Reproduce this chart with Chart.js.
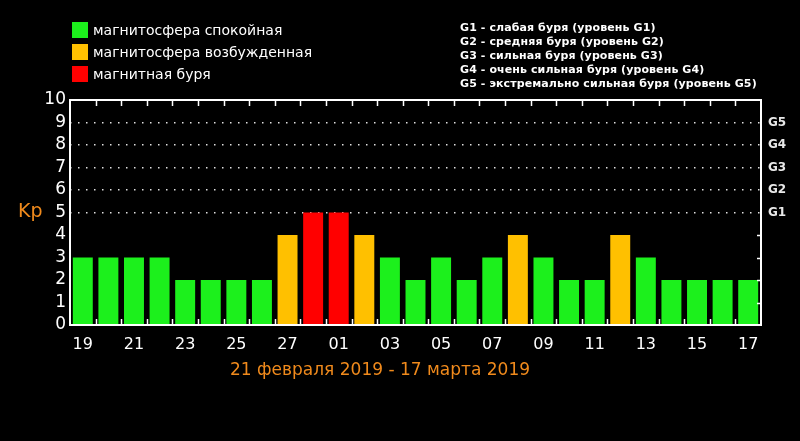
<!DOCTYPE html>
<html>
<head>
<meta charset="utf-8">
<script src="https://cdn.jsdelivr.net/npm/chart.js@4/dist/chart.umd.min.js"></script>
<style>
    body { margin: 0; background: #000; }
    #wrap { position: relative; width: 800px; height: 441px; background: #000; overflow: hidden; font-family: "DejaVu Sans", sans-serif; }
    #kp-chart { position: absolute; left: 0; top: 0; }
    .legend { position: absolute; left: 72px; color: #fff; font-size: 14px; display: flex; align-items: center; height: 16px; }
    .legend span.box { width: 16px; height: 16px; margin-right: 5px; display: inline-block; }
    #g-legend { position: absolute; left: 460px; top: 21px; color: #fff; font-size: 11px; font-weight: bold; line-height: 14px; white-space: nowrap; letter-spacing: 0.1px; }
    #kp-label { position: absolute; left: 18px; top: 199px; color: #f08a1c; font-size: 19px; }
    #range { position: absolute; left: 230px; top: 359px; color: #f08a1c; font-size: 17px; white-space: nowrap; }
</style>
</head>
<body>
<div id="wrap">
    <canvas id="kp-chart" width="800" height="441"></canvas>
    <div class="legend" style="top:22px"><span class="box" style="background:#1cf01c"></span>магнитосфера спокойная</div>
    <div class="legend" style="top:44px"><span class="box" style="background:#ffc000"></span>магнитосфера возбужденная</div>
    <div class="legend" style="top:66px"><span class="box" style="background:#ff0000"></span>магнитная буря</div>
    <div id="g-legend">
        G1 - слабая буря (уровень G1)<br>
        G2 - средняя буря (уровень G2)<br>
        G3 - сильная буря (уровень G3)<br>
        G4 - очень сильная буря (уровень G4)<br>
        G5 - экстремально сильная буря (уровень G5)
    </div>
    <div id="kp-label">Kp</div>
    <div id="range">21 февраля 2019 - 17 марта 2019</div>
</div>
<script>
// days 19 Feb .. 17 Mar 2019
const days = ['19', '20', '21', '22', '23', '24', '25', '26', '27', '28',
    '01', '02', '03', '04', '05', '06', '07', '08', '09', '10',
    '11', '12', '13', '14', '15', '16', '17'];
const kpValues = [3, 3, 3, 3, 2, 2, 2, 2, 4, 5, 5, 4, 3, 2, 3, 2, 3, 4, 3, 2, 2, 4, 3, 2, 2, 2, 2];
const gLabels = ['G1', 'G2', 'G3', 'G4', 'G5'];   // at Kp 5..9

const GREEN = '#1cf01c';
const ORANGE = '#ffc000';
const RED = '#ff0000';

function barColor(v) {
    if (v >= 5) return RED;
    if (v >= 4) return ORANGE;
    return GREEN;
}

// frame with small inward ticks, like the original plot
const framePlugin = {
    id: 'frame',
    afterDatasetsDraw(chart) {
        const { ctx, chartArea: a, scales } = chart;
        const x = scales.x;
        const y = scales.y;
        ctx.save();
        ctx.strokeStyle = '#fff';
        ctx.lineWidth = 2;
        ctx.strokeRect(a.left, a.top, a.right - a.left, a.bottom - a.top);

        ctx.lineWidth = 1.5;
        ctx.beginPath();
        for (let i = 1; i < days.length; i++) {
            const xb = Math.round((x.getPixelForValue(i - 1) + x.getPixelForValue(i)) / 2) + 0.5;
            ctx.moveTo(xb, a.top);
            ctx.lineTo(xb, a.top + 6);
            ctx.moveTo(xb, a.bottom);
            ctx.lineTo(xb, a.bottom - 6);
        }
        for (let v = 1; v <= 4; v++) {
            const yy = Math.round(y.getPixelForValue(v)) + 0.5;
            ctx.moveTo(a.right, yy);
            ctx.lineTo(a.right - 4, yy);
        }
        ctx.stroke();
        ctx.restore();
    }
};

new Chart(document.getElementById('kp-chart'), {
    type: 'bar',
    data: {
        labels: days,
        datasets: [{
            data: kpValues,
            backgroundColor: kpValues.map(barColor),
            borderWidth: 0,
            barPercentage: 0.78,
            categoryPercentage: 1
        }]
    },
    options: {
        responsive: false,
        animation: false,
        layout: {
            padding: { top: 100, left: 0, right: 0, bottom: 0 }
        },
        plugins: {
            legend: { display: false },
            tooltip: { enabled: false }
        },
        scales: {
            x: {
                offset: true,
                grid: { display: false },
                border: { display: false },
                ticks: {
                    color: '#fff',
                    font: { family: 'DejaVu Sans', size: 16 },
                    autoSkip: false,
                    maxRotation: 0,
                    padding: 2,
                    callback: (val, i) => (i % 2 === 0 ? days[i] : '')
                },
                afterFit: scale => { scale.height = 116; }
            },
            y: {
                min: 0,
                max: 10,
                ticks: {
                    stepSize: 1,
                    autoSkip: false,
                    color: '#fff',
                    font: { family: 'DejaVu Sans', size: 17 },
                    padding: 4
                },
                grid: {
                    drawTicks: false,
                    lineWidth: 1.5,
                    color: c => (c.tick && c.tick.value >= 5 && c.tick.value <= 9 ? '#e0e0e0' : 'rgba(0,0,0,0)')
                },
                border: { display: false, dash: [1.5, 6.5] },
                afterFit: scale => { scale.width = 70; }
            },
            y2: {
                position: 'right',
                min: 0,
                max: 10,
                ticks: {
                    stepSize: 1,
                    autoSkip: false,
                    color: '#e8e8e8',
                    font: { family: 'DejaVu Sans', size: 12, weight: 'bold' },
                    padding: 7,
                    callback: v => (v >= 5 && v <= 9 ? gLabels[v - 5] : '')
                },
                grid: { display: false, drawTicks: false },
                border: { display: false },
                afterFit: scale => { scale.width = 39; }
            }
        }
    },
    plugins: [framePlugin]
});
</script>
</body>
</html>
